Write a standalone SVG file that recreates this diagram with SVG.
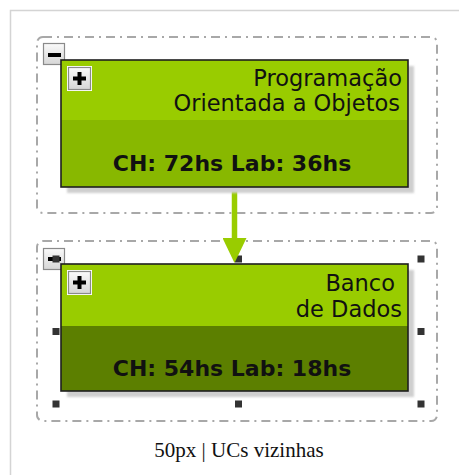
<svg xmlns="http://www.w3.org/2000/svg" width="459" height="475" viewBox="0 0 459 475">
<defs>
<style>
.frame{fill:#ffffff;stroke:#d4d4d4;stroke-width:1.5}
.cont{fill:none;stroke:#a8a8a8;stroke-width:2;stroke-dasharray:9 5 2 5}
.hdr1{fill:#99cc00}
.body1{fill:#88b800}
.body2{fill:#5c7f00}
.border{fill:none;stroke:#1e1e1e;stroke-width:1.6}
.shadow{fill:#cfcfcf;filter:url(#blur)}
.title{font-family:"DejaVu Sans",sans-serif;font-size:22.5px;fill:#111;text-anchor:end}
.stat{font-family:"DejaVu Sans",sans-serif;font-size:22px;font-weight:bold;fill:#111;text-anchor:middle}
.btn{fill:url(#btng);stroke:#8a8a8a;stroke-width:1.2}
.btnhalo{fill:none;stroke:#ffffff;stroke-width:1}
.sign{fill:#000}
.handle{fill:#333333}
.edge{stroke:#99cc00;stroke-width:5.5;fill:none}
.caption{font-family:"Liberation Serif",serif;font-size:21px;fill:#111;text-anchor:middle}
</style>
<linearGradient id="btng" x1="0" y1="0" x2="0" y2="1">
<stop offset="0" stop-color="#fafafa"/>
<stop offset="1" stop-color="#d6d6d6"/>
</linearGradient>
<filter id="blur" x="-10%" y="-10%" width="120%" height="120%"><feGaussianBlur stdDeviation="1"/></filter>
<marker id="arrow" markerUnits="userSpaceOnUse" markerWidth="26" markerHeight="24" refX="1" refY="12" orient="auto" viewBox="0 0 26 24">
<path d="M0,0 L25,12 L0,24 Z" fill="#99cc00"/>
</marker>
</defs>
<rect class="frame" x="10.5" y="10.5" width="500" height="500"/>

<g id="container1">
<rect class="cont" x="37" y="37" width="400" height="176" rx="6"/>
<rect class="btnhalo" x="42.5" y="42.5" width="23" height="23"/>
<rect class="btn" x="43.5" y="43.5" width="21" height="21"/>
<rect class="sign" x="48" y="53" width="13" height="4"/>
</g>

<g id="container2">
<rect class="cont" x="37" y="241" width="400" height="180" rx="6"/>
<rect class="btnhalo" x="42.5" y="247.5" width="23" height="23"/>
<rect class="btn" x="43.5" y="248.5" width="21" height="21"/>
<rect class="sign" x="48" y="257" width="13" height="4"/>
</g>

<g id="handles">
<rect class="handle" x="52.5" y="255.5" width="7" height="7"/>
<rect class="handle" x="235" y="255.5" width="7" height="7"/>
<rect class="handle" x="417.5" y="255.5" width="7" height="7"/>
<rect class="handle" x="52.5" y="328" width="7" height="7"/>
<rect class="handle" x="417.5" y="328" width="7" height="7"/>
<rect class="handle" x="52.5" y="400.5" width="7" height="7"/>
<rect class="handle" x="235" y="400.5" width="7" height="7"/>
<rect class="handle" x="417.5" y="400.5" width="7" height="7"/>
</g>

<g id="connectors">
<line class="edge" x1="234.5" y1="187" x2="234.5" y2="239" marker-end="url(#arrow)"/>
</g>

<g id="node1">
<rect class="shadow" x="67" y="66" width="347" height="127"/>
<rect class="hdr1" x="61" y="60" width="347" height="60"/>
<rect class="body1" x="61" y="120" width="347" height="67"/>
<rect class="border" x="61" y="60" width="347" height="127"/>
<rect class="btnhalo" x="67.5" y="66.5" width="24" height="24"/>
<rect class="btn" x="68.5" y="67.5" width="22" height="22"/>
<rect class="sign" x="73" y="76.5" width="13" height="4"/>
<rect class="sign" x="77.5" y="72" width="4" height="13"/>
<text class="title" x="402" y="86">Programação</text>
<text class="title" x="400" y="111">Orientada a Objetos</text>
<text class="stat" x="232" y="171">CH: 72hs Lab: 36hs</text>
</g>

<g id="node2">
<rect class="shadow" x="67" y="270" width="347" height="127"/>
<rect class="hdr1" x="61" y="264" width="347" height="62"/>
<rect class="body2" x="61" y="326" width="347" height="65"/>
<rect class="border" x="61" y="264" width="347" height="127"/>
<rect class="btnhalo" x="67.5" y="270.5" width="24" height="24"/>
<rect class="btn" x="68.5" y="271.5" width="22" height="22"/>
<rect class="sign" x="73" y="280.5" width="13" height="4"/>
<rect class="sign" x="77.5" y="276" width="4" height="13"/>
<text class="title" x="395" y="290.5">Banco</text>
<text class="title" x="402" y="316.5">de Dados</text>
<text class="stat" x="232" y="376">CH: 54hs Lab: 18hs</text>
</g>

<text class="caption" x="239" y="457">50px | UCs vizinhas</text>
</svg>
